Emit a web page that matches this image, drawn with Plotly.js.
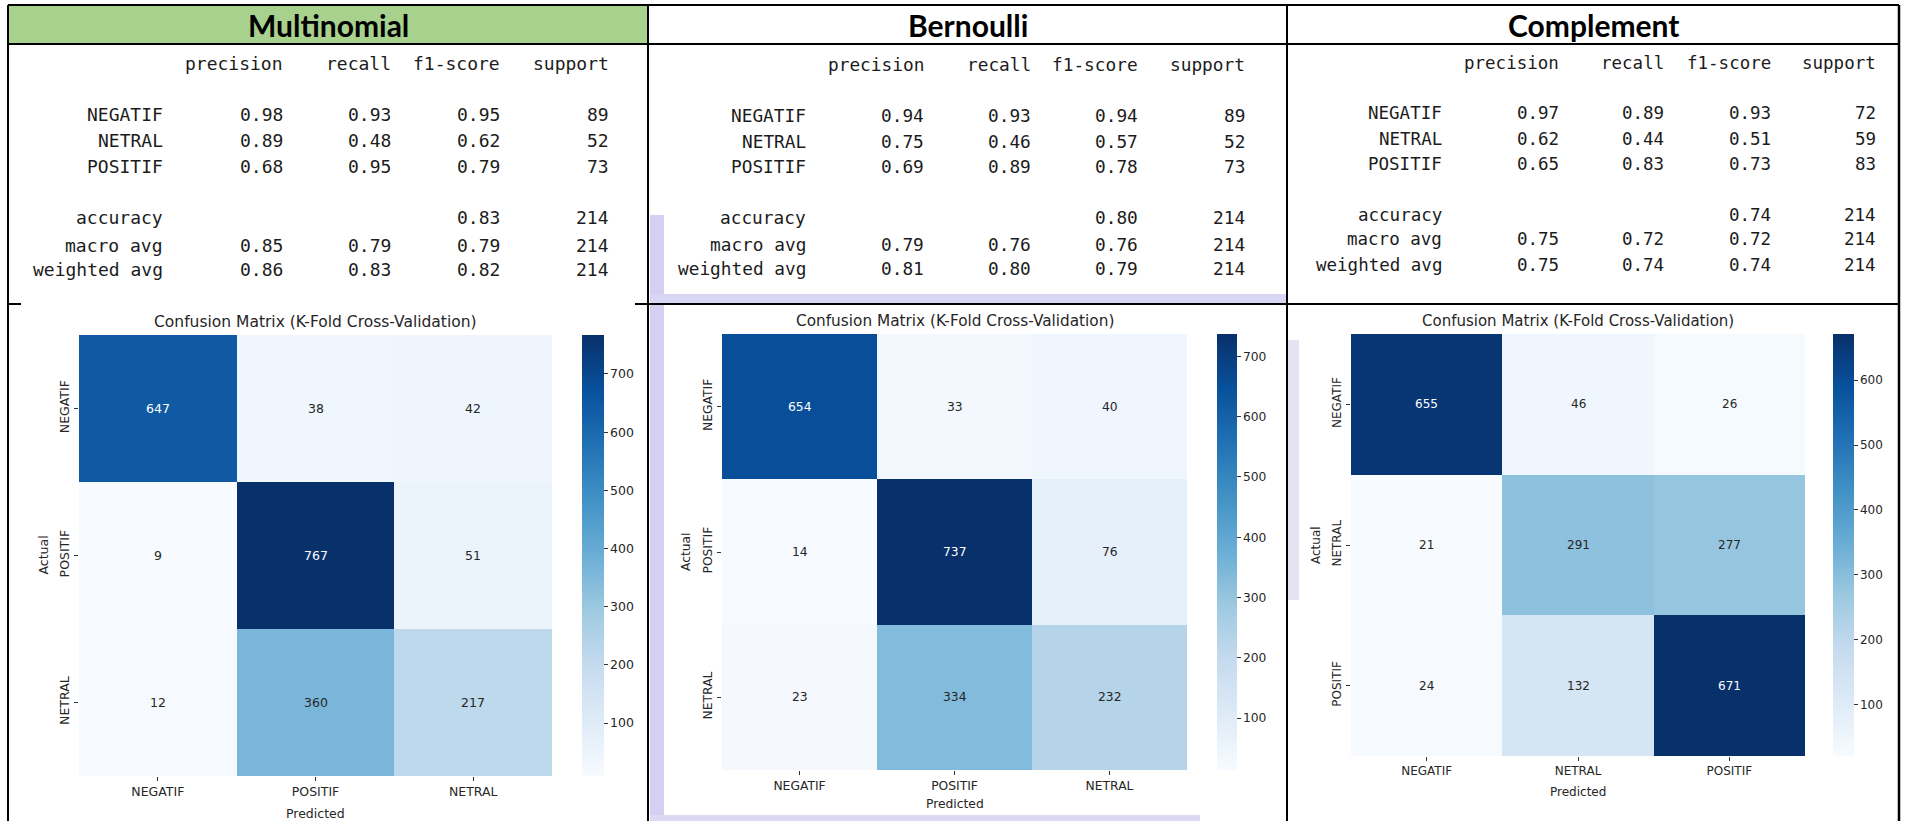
<!DOCTYPE html>
<html>
<head>
<meta charset="utf-8">
<script src="https://cdn.plot.ly/plotly-3.0.1.min.js"></script>
<style>
  html, body { margin: 0; padding: 0; background: #ffffff; }
  #chart { width: 1909px; height: 821px; }
</style>
</head>
<body>
<div id="chart"></div>
<script>
// ---------------- DATA ----------------
const modelNames = ['Multinomial', 'Bernoulli', 'Complement'];
const reportHeaders = ['precision', 'recall', 'f1-score', 'support'];
const reportRowLabels = ['NEGATIF', 'NETRAL', 'POSITIF', 'accuracy', 'macro avg', 'weighted avg'];

const multinomialPrecision = [0.98, 0.89, 0.68, null, 0.85, 0.86];
const multinomialRecall    = [0.93, 0.48, 0.95, null, 0.79, 0.83];
const multinomialF1        = [0.95, 0.62, 0.79, 0.83, 0.79, 0.82];
const multinomialSupport   = [89, 52, 73, 214, 214, 214];

const bernoulliPrecision = [0.94, 0.75, 0.69, null, 0.79, 0.81];
const bernoulliRecall    = [0.93, 0.46, 0.89, null, 0.76, 0.80];
const bernoulliF1        = [0.94, 0.57, 0.78, 0.80, 0.76, 0.79];
const bernoulliSupport   = [89, 52, 73, 214, 214, 214];

const complementPrecision = [0.97, 0.62, 0.65, null, 0.75, 0.75];
const complementRecall    = [0.89, 0.44, 0.83, null, 0.72, 0.74];
const complementF1        = [0.93, 0.51, 0.73, 0.74, 0.72, 0.74];
const complementSupport   = [72, 59, 83, 214, 214, 214];

const multinomialLabels = ['NEGATIF', 'POSITIF', 'NETRAL'];
const multinomialMatrix = [[647, 38, 42], [9, 767, 51], [12, 360, 217]];
const bernoulliLabels = ['NEGATIF', 'POSITIF', 'NETRAL'];
const bernoulliMatrix = [[654, 33, 40], [14, 737, 76], [23, 334, 232]];
const complementLabels = ['NEGATIF', 'NETRAL', 'POSITIF'];
const complementMatrix = [[655, 46, 26], [21, 291, 277], [24, 132, 671]];

const matrixTitle = 'Confusion Matrix (K-Fold Cross-Validation)';
const xAxisTitle = 'Predicted';
const yAxisTitle = 'Actual';

// ---------------- LAYOUT / STYLE ----------------
const W = 1909, H = 821;
const px = x => x / W;
const py = y => 1 - y / H;

const blues = [
  [0.000, '#f7fbff'], [0.125, '#deebf7'], [0.250, '#c6dbef'], [0.375, '#9ecae1'],
  [0.500, '#6baed6'], [0.625, '#4292c6'], [0.750, '#2171b5'], [0.875, '#08519c'], [1.000, '#08306b']
];

const panels = [
  { labels: multinomialLabels, matrix: multinomialMatrix,
    report: [multinomialPrecision, multinomialRecall, multinomialF1, multinomialSupport],
    plotX: [79, 552], plotY: [335, 776], cbX: 582, cbW: 22, titleY: 322, actualX: 43, predY: 813,
    fs: 12.5, tfs: 15.5, colRight: [165, 285, 393, 502, 611], rowY: [63, 115, 140, 166, 218, 245, 270],
    rfs: 18, headerX: 328 },
  { labels: bernoulliLabels, matrix: bernoulliMatrix,
    report: [bernoulliPrecision, bernoulliRecall, bernoulliF1, bernoulliSupport],
    plotX: [722, 1187], plotY: [334, 770], cbX: 1217, cbW: 20, titleY: 321, actualX: 686, predY: 804,
    fs: 12.3, tfs: 15.3, colRight: [808, 926, 1033, 1140, 1247], rowY: [65, 116, 141, 167, 218, 244, 269],
    rfs: 17.8, headerX: 968 },
  { labels: complementLabels, matrix: complementMatrix,
    report: [complementPrecision, complementRecall, complementF1, complementSupport],
    plotX: [1351, 1805], plotY: [334, 756], cbX: 1833, cbW: 21, titleY: 321, actualX: 1316, predY: 792,
    fs: 12, tfs: 15, colRight: [1444, 1561, 1666, 1773, 1878], rowY: [63, 113, 139, 164, 215, 239, 265],
    rfs: 17.5, headerX: 1593 }
];

const textDark = '#262626';
const traces = [];
const annotations = [];
const layout = {
  width: W, height: H,
  margin: { l: 0, r: 0, t: 0, b: 0, pad: 0 },
  paper_bgcolor: '#ffffff', plot_bgcolor: '#ffffff',
  font: { family: 'DejaVu Sans', color: textDark },
  showlegend: false,
  shapes: [],
  annotations: annotations
};

panels.forEach((p, k) => {
  const n = k === 0 ? '' : String(k + 1);
  const flat = p.matrix.flat();
  const zmin = Math.min(...flat), zmax = Math.max(...flat);

  traces.push({
    type: 'heatmap',
    x: p.labels, y: p.labels, z: p.matrix,
    xaxis: 'x' + n, yaxis: 'y' + n,
    colorscale: blues, zmin: zmin, zmax: zmax,
    hoverinfo: 'skip',
    colorbar: {
      thickness: p.cbW, thicknessmode: 'pixels',
      len: (p.plotY[1] - p.plotY[0]) / H, lenmode: 'fraction',
      x: px(p.cbX), xanchor: 'left', y: py(p.plotY[0]), yanchor: 'top',
      xpad: 0, ypad: 0, outlinewidth: 0,
      ticks: 'outside', ticklen: 4, tickwidth: 1, tickcolor: '#333',
      tick0: 0, dtick: 100,
      tickfont: { family: 'DejaVu Sans', size: p.fs, color: textDark }
    }
  });

  const axCommon = {
    type: 'category', showgrid: false, zeroline: false, showline: false,
    ticks: 'outside', ticklen: 4, tickwidth: 1, tickcolor: '#333',
    tickfont: { family: 'DejaVu Sans', size: p.fs, color: textDark },
    fixedrange: true
  };
  layout['xaxis' + n] = Object.assign({}, axCommon, {
    domain: [px(p.plotX[0]), px(p.plotX[1])], anchor: 'y' + n
  });
  layout['yaxis' + n] = Object.assign({}, axCommon, {
    domain: [py(p.plotY[1]), py(p.plotY[0])], anchor: 'x' + n,
    autorange: 'reversed', tickangle: -90
  });

  // cell values
  p.matrix.forEach((row, i) => row.forEach((v, j) => {
    const t = (v - zmin) / (zmax - zmin);
    annotations.push({
      xref: 'x' + n, yref: 'y' + n, x: p.labels[j], y: p.labels[i],
      text: String(v), showarrow: false,
      font: { family: 'DejaVu Sans', size: p.fs, color: t > 0.6 ? '#ffffff' : textDark }
    });
  }));

  const cx = (p.plotX[0] + p.plotX[1]) / 2;
  const cy = (p.plotY[0] + p.plotY[1]) / 2;
  annotations.push({ xref: 'paper', yref: 'paper', x: px(cx), y: py(p.titleY), xanchor: 'center', yanchor: 'middle',
    text: matrixTitle, showarrow: false, font: { family: 'DejaVu Sans', size: p.tfs, color: textDark } });
  annotations.push({ xref: 'paper', yref: 'paper', x: px(cx), y: py(p.predY), xanchor: 'center', yanchor: 'middle',
    text: xAxisTitle, showarrow: false, font: { family: 'DejaVu Sans', size: p.fs, color: textDark } });
  annotations.push({ xref: 'paper', yref: 'paper', x: px(p.actualX), y: py(cy), xanchor: 'center', yanchor: 'middle',
    text: yAxisTitle, textangle: -90, showarrow: false, font: { family: 'DejaVu Sans', size: p.fs, color: textDark } });

  // model header
  annotations.push({ xref: 'paper', yref: 'paper', x: px(p.headerX), y: py(25), xanchor: 'center', yanchor: 'middle',
    text: '<b>' + modelNames[k] + '</b>', showarrow: false, font: { family: 'Lato', size: 30, color: '#000000' } });

  // classification report
  const mono = { family: 'DejaVu Sans Mono', size: p.rfs, color: '#1c1c1c' };
  reportHeaders.forEach((h, c) => {
    annotations.push({ xref: 'paper', yref: 'paper', x: px(p.colRight[c + 1]), y: py(p.rowY[0]),
      xanchor: 'right', yanchor: 'middle', text: h, showarrow: false, font: mono });
  });
  reportRowLabels.forEach((lab, r) => {
    annotations.push({ xref: 'paper', yref: 'paper', x: px(p.colRight[0]), y: py(p.rowY[r + 1]),
      xanchor: 'right', yanchor: 'middle', text: lab, showarrow: false, font: mono });
    p.report.forEach((col, c) => {
      const v = col[r];
      if (v === null) return;
      const s = c === 3 ? String(v) : v.toFixed(2);
      annotations.push({ xref: 'paper', yref: 'paper', x: px(p.colRight[c + 1]), y: py(p.rowY[r + 1]),
        xanchor: 'right', yanchor: 'middle', text: s, showarrow: false, font: mono });
    });
  });
});

// background decoration and table borders
function rect(x0, y0, x1, y1, color, layer) {
  layout.shapes.push({ type: 'rect', xref: 'paper', yref: 'paper', x0: px(x0), x1: px(x1), y0: py(y1), y1: py(y0),
    fillcolor: color, line: { width: 0 }, layer: layer || 'below' });
}
function line(x0, y0, x1, y1, w) {
  layout.shapes.push({ type: 'line', xref: 'paper', yref: 'paper', x0: px(x0), x1: px(x1), y0: py(y0), y1: py(y1),
    line: { color: '#000000', width: w || 2 }, layer: 'above' });
}
rect(8, 5, 648, 44, '#a9d18e');
// faint watermark strips in column 2 / 3
rect(650, 215, 664, 821, '#d3d0f1');
rect(650, 294, 1286, 304, '#d9d6f3');
rect(650, 815, 1200, 821, '#dcd9f4');
rect(1288, 340, 1299, 600, '#e6e2f3');

line(8, 5, 1899, 5);
line(8, 44, 1899, 44);
line(8, 5, 8, 821);
line(648, 5, 648, 821);
line(1287, 5, 1287, 821);
line(1899, 5, 1899, 821, 2.5);
line(8, 304, 21, 304);
line(635, 304, 1899, 304);

Plotly.newPlot('chart', traces, layout, { displayModeBar: false, staticPlot: true });
</script>
</body>
</html>
